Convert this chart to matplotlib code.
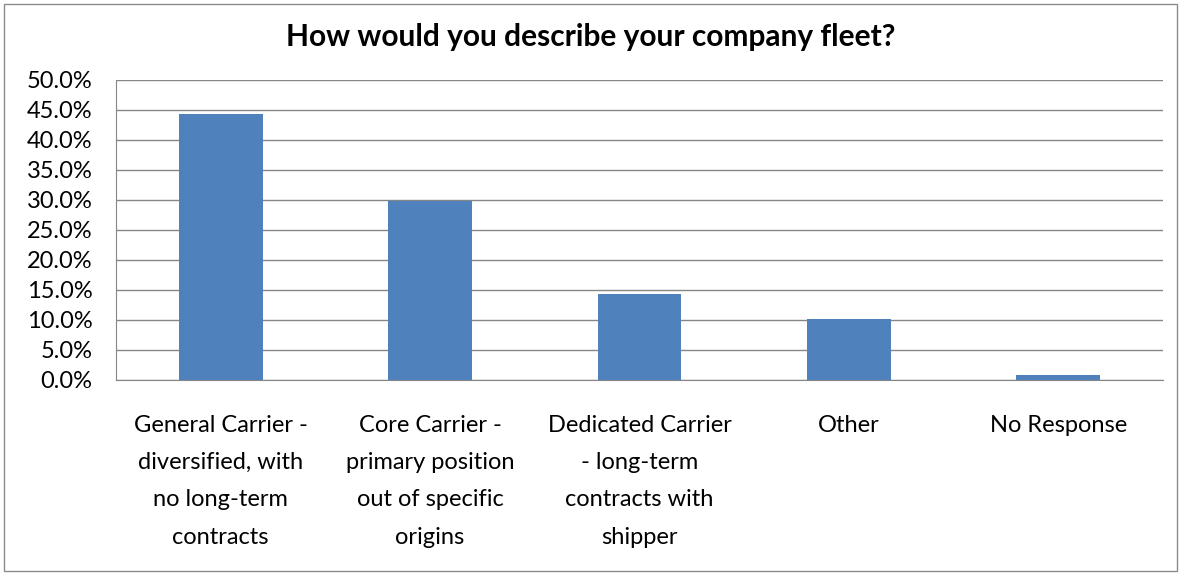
import matplotlib.pyplot as plt
from matplotlib.patches import Rectangle
from matplotlib.ticker import PercentFormatter

categories = [
    "General Carrier -\ndiversified, with\nno long-term\ncontracts",
    "Core Carrier -\nprimary position\nout of specific\norigins",
    "Dedicated Carrier\n- long-term\ncontracts with\nshipper",
    "Other",
    "No Response",
]
shares = [44.4, 29.9, 14.4, 10.2, 0.9]

plt.rcParams['font.family'] = ['Lato', 'DejaVu Sans']

fig = plt.figure(figsize=(11.81, 5.75), dpi=100)
fig.patches.append(Rectangle((4 / 1181, 4 / 575), 1173 / 1181, 567 / 575,
                             transform=fig.transFigure, fill=False,
                             edgecolor='#8c8c8c', linewidth=1))

ax = fig.add_axes([116 / 1181, 1 - 380 / 575, 1047 / 1181, 300 / 575])
x = range(len(categories))
ax.bar(x, shares, width=0.4, color='#4f81bd', zorder=3)

ax.set_xlim(-0.5, len(categories) - 0.5)
ax.set_ylim(0, 50)
ax.set_yticks([i * 5 for i in range(11)])
ax.yaxis.set_major_formatter(PercentFormatter(decimals=1))
ax.set_xticks(list(x))
ax.set_xticklabels(categories, fontsize=17, linespacing=1.96, va='top')
ax.tick_params(axis='x', length=0, pad=25)
ax.tick_params(axis='y', length=0, labelsize=17, pad=17)

ax.grid(axis='y', color='#868686', linewidth=1, zorder=0)
for side in ['top', 'right']:
    ax.spines[side].set_visible(False)
ax.spines['left'].set_color('#868686')
ax.spines['bottom'].set_color('#868686')

fig.text(0.5, 1 - 37 / 575, 'How would you describe your company fleet?',
         ha='center', va='center', fontsize=21.5, fontweight='bold')

fig.savefig('out.png', dpi=100)
